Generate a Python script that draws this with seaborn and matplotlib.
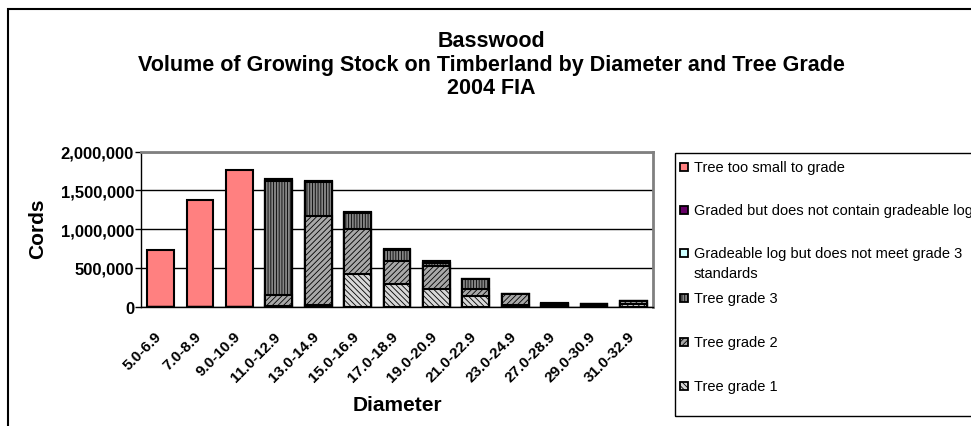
import numpy as np
import pandas as pd
import seaborn as sns
import matplotlib.pyplot as plt
import matplotlib.transforms as mtransforms
from matplotlib.patches import Rectangle
from matplotlib.ticker import FuncFormatter

#--------------
diameters = ['5.0-6.9', '7.0-8.9', '9.0-10.9', '11.0-12.9', '13.0-14.9', '15.0-16.9',
             '17.0-18.9', '19.0-20.9', '21.0-22.9', '23.0-24.9', '27.0-28.9',
             '29.0-30.9', '31.0-32.9']

# cords, stacked bottom -> top
grade1 = [0, 0, 0, 5000, 20000, 416000, 299000, 226000, 135000, 25000, 15000, 10000, 40000]
grade2 = [0, 0, 0, 150000, 1154000, 593000, 294000, 299000, 95000, 140000, 25000, 20000, 35000]
grade3 = [0, 0, 0, 1465000, 436000, 198000, 137000, 45000, 125000, 0, 0, 0, 0]
below_grade3 = [0, 0, 0, 0, 0, 0, 0, 0, 0, 0, 0, 0, 0]
no_gradeable_log = [0, 0, 0, 25000, 13000, 10000, 10000, 20000, 5000, 5000, 5000, 5000, 5000]
too_small = [736000, 1375000, 1770000, 0, 0, 0, 0, 0, 0, 0, 0, 0, 0]

series = [
    ('Tree grade 1', grade1, '#d8d8d8', '\\\\\\\\\\\\'),
    ('Tree grade 2', grade2, '#a8a8a8', '//////'),
    ('Tree grade 3', grade3, '#858585', '||||||'),
    ('Gradeable log but does not meet grade 3\nstandards', below_grade3, '#ccffff', None),
    ('Graded but does not contain gradeable log', no_gradeable_log, '#660066', None),
    ('Tree too small to grade', too_small, '#ff8080', None),
]

#--------------
sns.set_theme(style='white')
plt.rcParams['font.family'] = ['Liberation Sans', 'DejaVu Sans']
plt.rcParams['hatch.linewidth'] = 0.6
for k in ['text.color', 'axes.labelcolor', 'xtick.color', 'ytick.color']:
    plt.rcParams[k] = 'black'

W, H = 971, 427
fig = plt.figure(figsize=(W / 100, H / 100), dpi=100)
ax = fig.add_axes([141 / W, 1 - 307.7 / H, 512 / W, 155 / H])

# stacked bars with seaborn: draw cumulative totals from the top layer down
cum = np.zeros(len(diameters))
layers = []
for name, vals, face, hatch in series:
    cum = cum + np.array(vals, dtype=float)
    layers.append((cum.copy(), face, hatch))

for heights, face, hatch in reversed(layers):
    df = pd.DataFrame({'Diameter': diameters, 'Cords': heights})
    n0 = len(ax.patches)
    sns.barplot(data=df, x='Diameter', y='Cords', color=face, saturation=1,
                width=0.68, errorbar=None, ax=ax)
    for p in ax.patches[n0:]:
        p.set_facecolor(face)
        p.set_edgecolor('black')
        p.set_linewidth(1.5)
        if hatch:
            p.set_hatch(hatch)

ax.set_xlim(-0.5, len(diameters) - 0.5)
ax.set_ylim(0, 2000000)
ax.set_yticks(np.arange(0, 2000001, 500000))
ax.yaxis.set_major_formatter(FuncFormatter(lambda v, _: f'{v:,.0f}'))
ax.set_axisbelow(True)
ax.yaxis.grid(True, color='black', linewidth=1)
ax.xaxis.grid(False)

ax.set_xlabel('')
ax.set_ylabel('')
for s in ['left', 'bottom']:
    ax.spines[s].set_color('black')
    ax.spines[s].set_linewidth(1)
for s in ['top', 'right']:
    ax.spines[s].set_color('#808080')
    ax.spines[s].set_linewidth(2)

ax.set_xticks(np.arange(len(diameters)))
ax.set_xticks(np.arange(len(diameters) + 1) - 0.5, minor=True)
ax.tick_params(axis='x', which='major', length=0, pad=16)
ax.tick_params(axis='x', which='minor', length=5, width=1, color='black', direction='out')
ax.tick_params(axis='y', length=4, width=1, color='black', direction='out', left=True, pad=1)
ax.set_xticklabels(diameters, rotation=45, ha='right', rotation_mode='anchor',
                   fontsize=11, fontweight='bold')
shift = mtransforms.ScaledTranslation(-6 / 100, 0, fig.dpi_scale_trans)
for t in ax.get_xticklabels():
    t.set_transform(t.get_transform() + shift)
for t in ax.get_yticklabels():
    t.set_fontsize(12)
    t.set_fontweight('bold')

#--------------
fig.text(491 / W, 1 - 31 / H,
         'Basswood\nVolume of Growing Stock on Timberland by Diameter and Tree Grade\n2004 FIA',
         ha='center', va='top', fontsize=15.5, fontweight='bold', linespacing=1.17)
fig.text(38 / W, 1 - 229 / H, 'Cords', rotation=90, ha='center', va='center',
         fontsize=15, fontweight='bold')
fig.text(397 / W, 1 - 411 / H, 'Diameter', ha='center', va='baseline',
         fontsize=15, fontweight='bold')

# chart border
fig.add_artist(Rectangle((8 / W, -0.2), 1.2, 1.2 - 9.5 / H, fill=False,
                         edgecolor='black', linewidth=1.5, transform=fig.transFigure))

# legend box
fig.add_artist(Rectangle((675 / W, 1 - 417 / H), 1.0, (417 - 154) / H, fill=False,
                         edgecolor='black', linewidth=1, transform=fig.transFigure))
entry_y = {'Tree grade 1': 387, 'Tree grade 2': 343, 'Tree grade 3': 299,
           'Gradeable log but does not meet grade 3\nstandards': 254,
           'Graded but does not contain gradeable log': 211,
           'Tree too small to grade': 168}
for name, vals, face, hatch in series:
    y = entry_y[name]
    fig.add_artist(Rectangle((680 / W, 1 - (y + 4) / H), 8 / W, 8 / H,
                             facecolor=face, edgecolor='black', linewidth=1.3,
                             hatch=hatch, transform=fig.transFigure))
    for k, line in enumerate(name.split('\n')):
        fig.text(694 / W, 1 - (y + 20 * k) / H, line, ha='left', va='center',
                 fontsize=10.5)

plt.savefig('out.png', dpi=100)
